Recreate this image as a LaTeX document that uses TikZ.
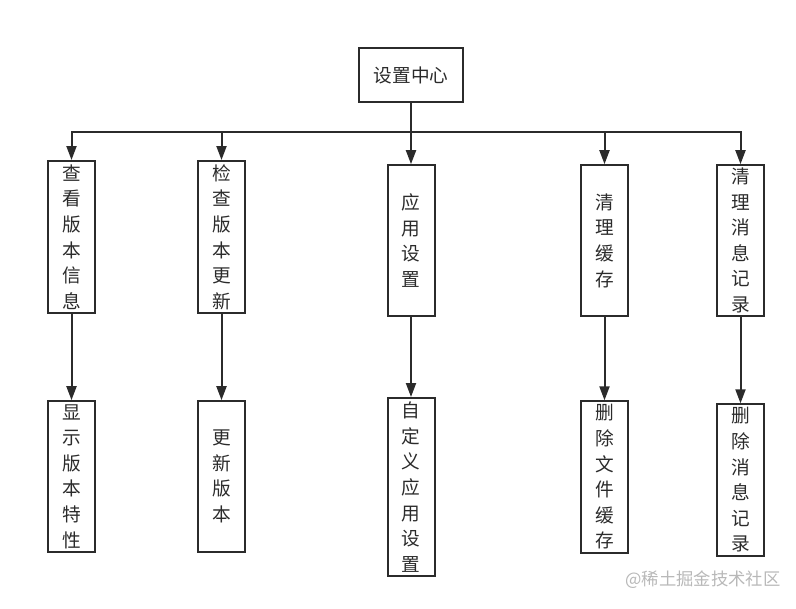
\documentclass[tikz,border=0pt]{standalone}
\usepackage{fontspec}
\newfontfamily\cjk{Noto Sans CJK SC}
\usetikzlibrary{arrows.meta}
\definecolor{ink}{HTML}{2B2B2B}
\definecolor{mark}{HTML}{B8B8B8}

\begin{document}
\begin{tikzpicture}[
  x=0.75pt, y=-0.75pt,
  every node/.style={inner sep=0pt, text=ink, font=\cjk\fontsize{14}{19.2}\selectfont},
  topbox/.style={rectangle, draw=ink, line width=1.5pt, minimum width=78pt, minimum height=40.5pt},
  vbox/.style={rectangle, draw=ink, line width=1.5pt, minimum width=35.25pt, align=center},
  % the connectors: plain bus lines and the filled-tip arrows into each box
  link/.style={draw=ink, line width=1.5pt},
  arrow/.style={draw=ink, line width=1.5pt, -{Triangle[length=10.5pt, width=7.5pt]}}]

  \useasboundingbox (0,0) rectangle (796,608);

  % vertices
  \node[topbox] (top) at (411,75) {设置中心};
  \coordinate (bus) at (411,132);

  \node[vbox, minimum height=114pt] (ver)   at (71.5,237)   {查\\看\\版\\本\\信\\息};
  \node[vbox, minimum height=114pt] (upd)   at (221.5,237)  {检\\查\\版\\本\\更\\新};
  \node[vbox, minimum height=113pt] (app)   at (411,240.5)   {应\\用\\设\\置};
  \node[vbox, minimum height=113pt] (cache) at (604.5,240.5) {清\\理\\缓\\存};
  \node[vbox, minimum height=113pt] (msg)   at (740.5,240.5) {清\\理\\消\\息\\记\\录};

  \node[vbox, minimum height=113pt]   (feat)   at (71.5,476.5)  {显\\示\\版\\本\\特\\性};
  \node[vbox, minimum height=113pt]   (newver) at (221.5,476.5) {更\\新\\版\\本};
  \node[vbox, minimum height=133.5pt] (custom) at (411,487)     {自\\定\\义\\应\\用\\设\\置};
  \node[vbox, minimum height=113.5pt] (delf)   at (604.5,477)   {删\\除\\文\\件\\缓\\存};
  \node[vbox, minimum height=113.5pt] (delm)   at (740.5,480)   {删\\除\\消\\息\\记\\录};

  % arrows
  \draw[link]  (top) -- (bus);
  \draw[arrow] (bus) -| (ver);
  \draw[arrow] (bus) -| (upd);
  \draw[arrow] (bus) -- (app);
  \draw[arrow] (bus) -| (cache);
  \draw[arrow] (bus) -| (msg);

  \draw[arrow] (ver)   -- (feat);
  \draw[arrow] (upd)   -- (newver);
  \draw[arrow] (app)   -- (custom);
  \draw[arrow] (cache) -- (delf);
  \draw[arrow] (msg)   -- (delm);

  % watermark printed in the corner
  \node[text=mark, font=\cjk\fontsize{13}{15}\selectfont] (wm) at (703,580) {@稀土掘金技术社区};
\end{tikzpicture}
\end{document}
